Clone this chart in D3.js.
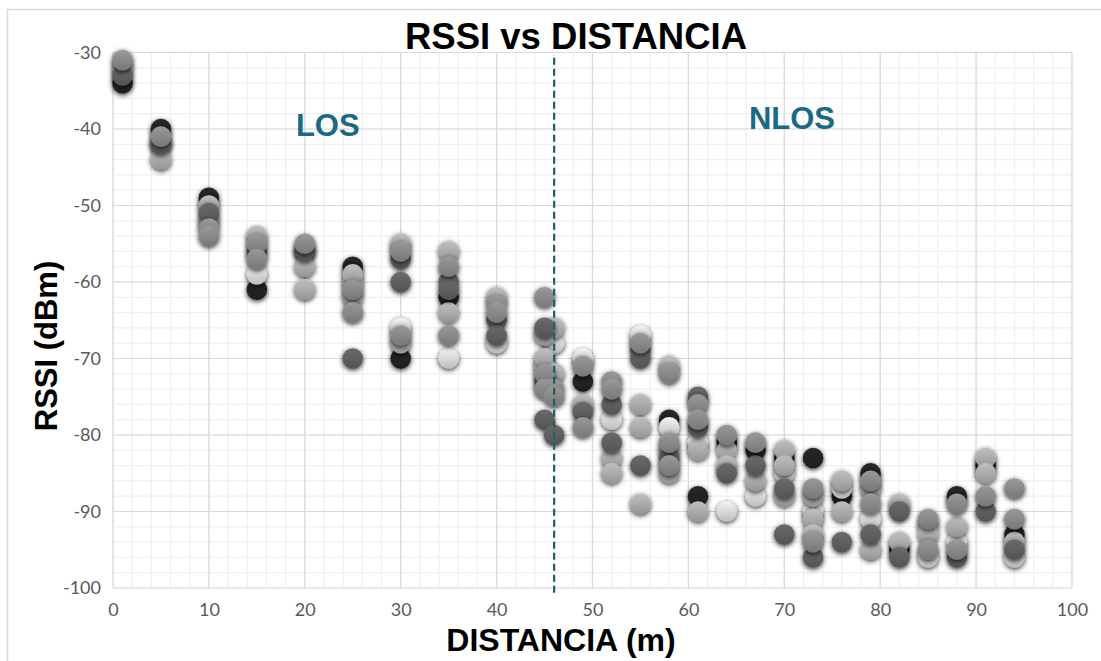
<!DOCTYPE html>
<html><head><meta charset="utf-8">
<script src="https://cdn.jsdelivr.net/npm/d3@7"></script>
<style>
html,body{margin:0;padding:0;background:#fff;}
svg{display:block;}
</style></head>
<body>
<svg id="chart" width="1101" height="661"></svg>
<script>
// ---- data ----
const title = "RSSI vs DISTANCIA";
const xLabel = "DISTANCIA (m)";
const yLabel = "RSSI (dBm)";
const xTicks = [0,10,20,30,40,50,60,70,80,90,100];
const yTicks = [-30,-40,-50,-60,-70,-80,-90,-100];
const boundary = 46;
const zoneLabels = [{text:"LOS", x:22.4, y:-40.9}, {text:"NLOS", x:70.8, y:-40}];

// points per tone: [distance (m), RSSI (dBm)]
const blackPts = [[1,-34],[5,-40],[10,-49],[15,-61],[20,-56],[25,-58],[30,-70],[35,-62],[49,-73],[58,-78],[61,-88],[64,-81],[67,-82],[70,-83],[73,-83],[76,-88],[79,-85],[82,-95],[88,-88],[91,-84],[94,-93]];
const palePts = [[15,-59],[25,-60],[30,-66],[35,-70],[40,-68],[45,-71],[46,-68],[49,-70],[52,-78],[55,-67],[58,-79],[61,-81],[64,-90],[67,-88],[70,-85],[73,-90],[76,-87],[79,-91],[85,-96],[88,-94],[94,-96]];
const lightPts = [[1,-32],[5,-42],[5,-44],[10,-50],[10,-52],[15,-54],[20,-58],[20,-61],[25,-59],[25,-62],[30,-55],[30,-68],[35,-56],[35,-64],[40,-62],[45,-67],[45,-70],[46,-66],[46,-72],[49,-76],[52,-83],[52,-85],[55,-76],[55,-79],[55,-89],[58,-71],[58,-82],[58,-85],[61,-82],[61,-90],[64,-82],[64,-84],[67,-86],[70,-82],[70,-84],[70,-88],[73,-88],[73,-91],[73,-93],[76,-86],[76,-90],[79,-87],[79,-95],[82,-89],[82,-94],[85,-92],[85,-93],[88,-92],[91,-83],[91,-85],[94,-94]];
const darkPts = [[1,-33],[5,-42],[10,-51],[15,-56],[20,-56],[25,-70],[30,-57],[30,-60],[35,-60],[35,-61],[40,-65],[40,-67],[45,-66],[45,-73],[45,-78],[46,-80],[49,-77],[52,-76],[52,-81],[55,-69],[55,-70],[55,-84],[58,-83],[61,-75],[61,-79],[64,-85],[67,-84],[70,-87],[70,-93],[73,-96],[76,-94],[79,-93],[82,-90],[82,-96],[88,-96],[91,-90],[94,-95]];
const grayPts = [[1,-31],[5,-41],[10,-53],[10,-54],[15,-55],[15,-57],[20,-55],[25,-61],[25,-64],[30,-56],[30,-67],[35,-58],[35,-67],[40,-63],[40,-64],[45,-62],[45,-72],[45,-74],[46,-74],[46,-75],[49,-71],[49,-79],[52,-73],[52,-74],[55,-68],[58,-72],[58,-81],[58,-84],[61,-76],[61,-78],[64,-80],[67,-81],[73,-87],[73,-94],[79,-86],[79,-89],[85,-91],[85,-95],[88,-89],[88,-95],[91,-88],[94,-87],[94,-91]];

const tones = [
  {name:"black", color:"#222222", pts:blackPts},
  {name:"pale",  color:"#d6d6d6", pts:palePts},
  {name:"light", color:"#a9a9a9", pts:lightPts},
  {name:"dark",  color:"#5e5e5e", pts:darkPts},
  {name:"gray",  color:"#878787", pts:grayPts}
];

// ---- layout ----
const svg = d3.select("#chart");
const m = {left:113, right:1072, top:52.5, bottom:588};
const x = d3.scaleLinear().domain([0,100]).range([m.left, m.right]);
const y = d3.scaleLinear().domain([-100,-30]).range([m.bottom, m.top]);

// outer chart border
svg.append("rect").attr("x",7.5).attr("y",9.5).attr("width",1110).attr("height",680)
  .attr("fill","#fff").attr("stroke","#d9d9d9").attr("stroke-width",1.5);

const defs = svg.append("defs");
const f = defs.append("filter").attr("id","sh").attr("x","-80%").attr("y","-80%").attr("width","260%").attr("height","260%");
f.append("feDropShadow").attr("dx",0).attr("dy",1.5).attr("stdDeviation",2.8).attr("flood-color","#000").attr("flood-opacity",0.85);

tones.forEach(t => {
  const g = defs.append("linearGradient").attr("id","g-"+t.name).attr("x1",0).attr("y1",0).attr("x2",0).attr("y2",1);
  g.append("stop").attr("offset","0%").attr("stop-color", d3.color(t.color).brighter(0.35));
  g.append("stop").attr("offset","55%").attr("stop-color", t.color);
  g.append("stop").attr("offset","100%").attr("stop-color", d3.color(t.color).darker(0.35));
});

// gridlines
const minorX = d3.range(0,101,2), minorY = d3.range(-100,-29,2);
const grid = svg.append("g");
grid.selectAll(".mx").data(minorX).join("line")
  .attr("x1",d=>x(d)).attr("x2",d=>x(d)).attr("y1",m.top).attr("y2",m.bottom)
  .attr("stroke","#efefef").attr("stroke-width",1.2);
grid.selectAll(".my").data(minorY).join("line")
  .attr("y1",d=>y(d)).attr("y2",d=>y(d)).attr("x1",m.left).attr("x2",m.right)
  .attr("stroke","#efefef").attr("stroke-width",1.2);
grid.selectAll(".Mx").data(xTicks).join("line")
  .attr("x1",d=>x(d)).attr("x2",d=>x(d)).attr("y1",m.top).attr("y2",m.bottom)
  .attr("stroke","#d9d9d9").attr("stroke-width",1.2);
grid.selectAll(".My").data(yTicks).join("line")
  .attr("y1",d=>y(d)).attr("y2",d=>y(d)).attr("x1",m.left).attr("x2",m.right)
  .attr("stroke","#d9d9d9").attr("stroke-width",1.2);

// axes (labels only)
const xAxis = svg.append("g").attr("transform",`translate(0,${m.bottom})`)
  .call(d3.axisBottom(x).tickValues(xTicks).tickSize(0).tickPadding(14).tickFormat(d => String(d)));
const yAxis = svg.append("g").attr("transform",`translate(${m.left},0)`)
  .call(d3.axisLeft(y).tickValues(yTicks).tickSize(0).tickPadding(12).tickFormat(d => String(d)));
[xAxis,yAxis].forEach(a=>{
  a.select(".domain").remove();
  a.selectAll("text").attr("font-family","Lato, 'Open Sans', sans-serif").attr("font-size",18).attr("fill","#595959");
});
xAxis.selectAll("text").attr("dy","0.75em");

// points
tones.forEach(t => {
  svg.append("g").attr("filter","url(#sh)")
    .selectAll("circle").data(t.pts).join("circle")
    .attr("cx",d=>x(d[0])).attr("cy",d=>y(d[1])).attr("r",10.3)
    .attr("fill","url(#g-"+t.name+")");
});

// boundary line
svg.append("line").attr("x1",x(boundary)).attr("x2",x(boundary))
  .attr("y1",y(-30.7)).attr("y2",m.bottom+7)
  .attr("stroke","#1f5e68").attr("stroke-width",2.2).attr("stroke-dasharray","7,4");

// zone labels
svg.selectAll(".zone").data(zoneLabels).join("text")
  .attr("x",d=>x(d.x)).attr("y",d=>y(d.y)).attr("text-anchor","middle")
  .attr("font-family","'Liberation Sans', Arial, sans-serif").attr("font-weight","bold")
  .attr("font-size",31).attr("fill","#1a6a84").text(d=>d.text);

// titles
svg.append("text").attr("x",576).attr("y",49).attr("text-anchor","middle")
  .attr("font-family","'Liberation Sans', Arial, sans-serif").attr("font-weight","bold")
  .attr("font-size",36.5).attr("fill","#000").text(title);
svg.append("text").attr("x",561).attr("y",651).attr("text-anchor","middle")
  .attr("font-family","'Liberation Sans', Arial, sans-serif").attr("font-weight","bold")
  .attr("font-size",32).attr("fill","#000").text(xLabel);
svg.append("text").attr("transform","translate(57,346) rotate(-90)").attr("text-anchor","middle")
  .attr("font-family","'Liberation Sans', Arial, sans-serif").attr("font-weight","bold")
  .attr("font-size",31).attr("fill","#000").text(yLabel);
</script>
</body></html>
